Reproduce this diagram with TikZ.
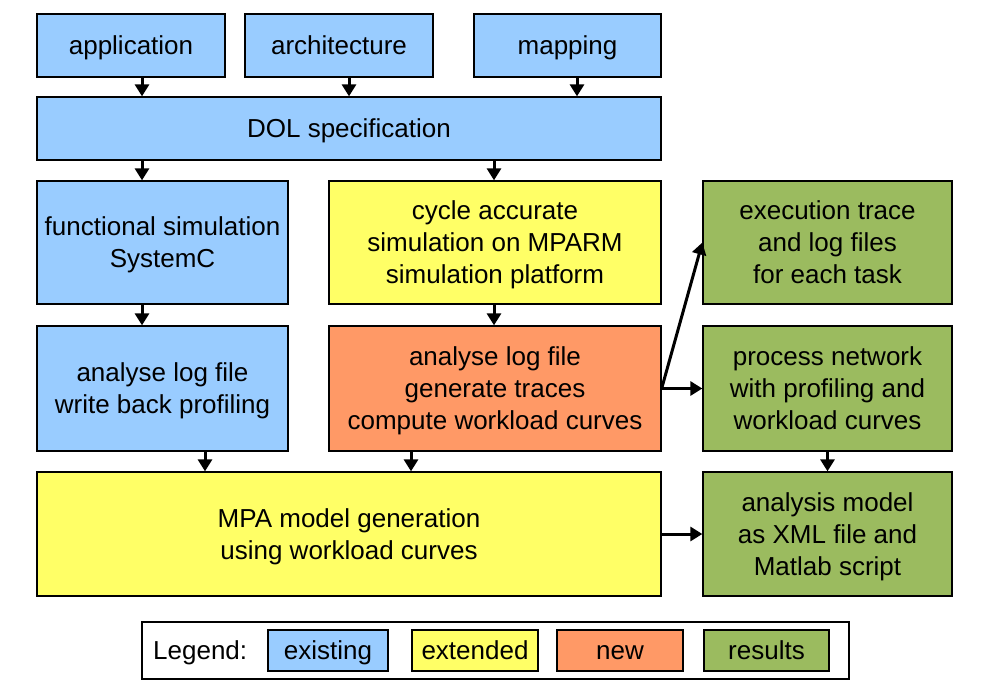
\documentclass[tikz,border=0pt]{standalone}
\usepackage{fontspec}
\setmainfont{Liberation Sans}
\usetikzlibrary{arrows.meta}
\definecolor{cblue}{HTML}{99CCFF}
\definecolor{cyellow}{HTML}{FFFF66}
\definecolor{corange}{HTML}{FF9966}
\definecolor{cgreen}{HTML}{9BBB5F}
\newcommand{\ls}{\rule[-6.7pt]{0pt}{32pt}}
\tikzset{
  box/.style={draw=black, line width=1.3pt, align=center, inner sep=0pt,
    font=\fontsize{26}{32}\selectfont},
  arr/.style={line width=3pt, -{Triangle[width=14pt,length=12pt]}},
}
\begin{document}
\begin{tikzpicture}[x=1pt,y=-1pt]
\useasboundingbox (0,0) rectangle (981,696);
\node[box, fill=cblue, minimum width=188, minimum height=63] (app) at (131,45.5) {\ls application};
\node[box, fill=cblue, minimum width=188, minimum height=63] (arch) at (339,45.5) {\ls architecture};
\node[box, fill=cblue, minimum width=187, minimum height=63] (map) at (567.5,45.5) {\ls mapping};
\node[box, fill=cblue, minimum width=624, minimum height=63] (dol) at (349,128.5) {\ls DOL specification};
\node[box, fill=cblue, minimum width=251, minimum height=123] (func) at (162.5,242.5) {\ls functional simulation\\\ls SystemC};
\node[box, fill=cyellow, minimum width=332, minimum height=123] (cyc) at (495,242.5) {\ls cycle accurate\\\ls simulation on MPARM\\\ls simulation platform};
\node[box, fill=cgreen, minimum width=249, minimum height=123] (exec) at (827.5,242.5) {\ls execution trace\\\ls and log files\\\ls for each task};
\node[box, fill=cblue, minimum width=251, minimum height=125] (alog) at (162.5,388.5) {\ls analyse log file\\\ls write back profiling};
\node[box, fill=corange, minimum width=332, minimum height=125] (gen) at (495,388.5) {\ls analyse log file\\\ls generate traces\\\ls compute workload curves};
\node[box, fill=cgreen, minimum width=249, minimum height=125] (pn) at (827.5,388.5) {\ls process network\\\ls with profiling and\\\ls workload curves};
\node[box, fill=cyellow, minimum width=624, minimum height=124] (mpa) at (349,534) {\ls MPA model generation\\\ls using workload curves};
\node[box, fill=cgreen, minimum width=249, minimum height=124] (am) at (827.5,534) {\ls analysis model\\\ls as XML file and\\\ls Matlab script};
% arrows
\draw[arr] (app.south -| 142,0) -- (dol.north -| 142,0);
\draw[arr] (arch.south -| 349,0) -- (dol.north -| 349,0);
\draw[arr] (map.south -| 577,0) -- (dol.north -| 577,0);
\draw[arr] (dol.south -| 142,0) -- (func.north -| 142,0);
\draw[arr] (dol.south -| 494,0) -- (cyc.north -| 494,0);
\draw[arr] (func.south -| 142,0) -- (alog.north -| 142,0);
\draw[arr] (cyc.south -| 494,0) -- (gen.north -| 494,0);
\draw[arr] (alog.south -| 205,0) -- (mpa.north -| 205,0);
\draw[arr] (gen.south -| 411,0) -- (mpa.north -| 411,0);
\draw[arr] (pn.south) -- (am.north);
\draw[arr] (mpa.east) -- (am.west);
\draw[arr] (gen.east) -- (pn.west);
\draw[arr] (gen.east) -- (exec.west);
% legend
\node[draw=black, line width=1.3pt, minimum width=707, minimum height=57, inner sep=0pt] (leg) at (495.5,650.5) {};
\node[font=\fontsize{26}{32}\selectfont, anchor=west, inner sep=0pt] (legt) at (153,650.5) {\ls Legend:};
\node[box, fill=cblue, minimum width=120, minimum height=41] (l1) at (328,650.5) {\ls existing};
\node[box, fill=cyellow, minimum width=126, minimum height=41] (l2) at (475,650.5) {\ls extended};
\node[box, fill=corange, minimum width=126, minimum height=41] (l3) at (620,650.5) {\ls new};
\node[box, fill=cgreen, minimum width=125, minimum height=41] (l4) at (766.5,650.5) {\ls results};
\end{tikzpicture}
\end{document}
